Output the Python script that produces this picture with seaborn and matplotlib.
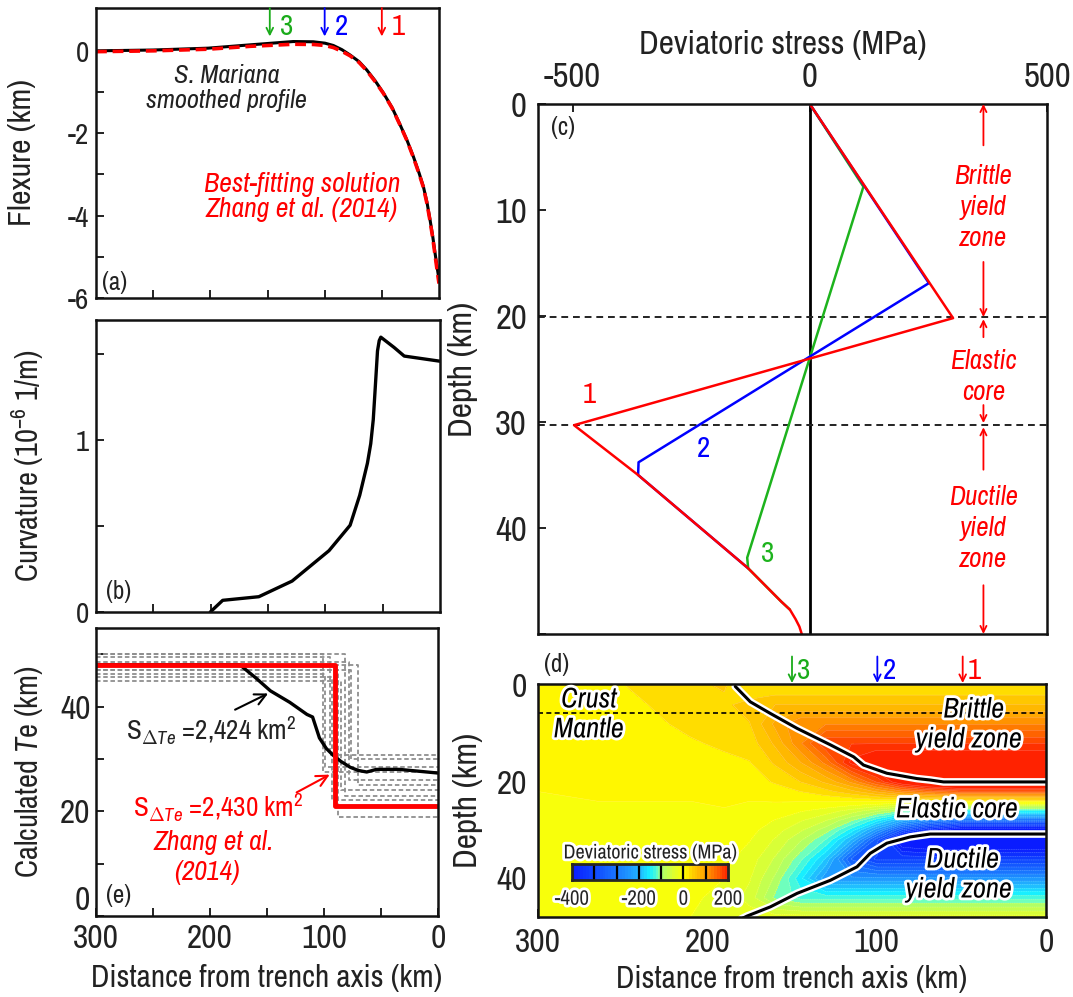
import numpy as np
import matplotlib
matplotlib.use('Agg')
import matplotlib.pyplot as plt
import matplotlib.patheffects as pe
from matplotlib import font_manager
from matplotlib.colors import LinearSegmentedColormap, Normalize
import seaborn as sns

# (a) flexure profile, km from trench axis
flex_dist = [300, 250, 202, 165, 127.5, 110, 99.7, 92.4, 85, 77.8, 70, 63.3, 56, 48.7, 41, 34.1, 28, 22.5, 17.5, 13.7, 10.5, 7.9, 5.5, 3.5, 1.5, 0]
flex_obs = [0.0, 0.02, 0.065, 0.146, 0.226, 0.22, 0.186, 0.13, 0.03, -0.10, -0.26, -0.46, -0.72, -1.02, -1.38, -1.79, -2.17, -2.56, -2.96, -3.29, -3.68, -4.09, -4.50, -4.90, -5.28, -5.55]
flex_zhang = [-0.02, 0.0, 0.04, 0.11, 0.16, 0.155, 0.13, 0.08, -0.01, -0.12, -0.28, -0.48, -0.74, -1.03, -1.39, -1.80, -2.18, -2.58, -2.98, -3.31, -3.71, -4.12, -4.54, -4.95, -5.36, -5.65]

arrow_dist = [148, 100, 50]
arrow_label = ['3', '2', '1']
arrow_color = ['#1aab1a', '#0000ff', '#ff0000']

# (b) curvature
curv_dist = [200.3, 189.5, 158, 129, 96.8, 78.4, 70, 63.3, 60.4, 58.2, 56.8, 54.5, 53, 51.6, 40, 31.2, 0]
curv_val = [0, 0.068, 0.089, 0.18, 0.357, 0.505, 0.68, 0.866, 0.98, 1.12, 1.27, 1.52, 1.58, 1.60, 1.54, 1.49, 1.46]

# (e) calculated Te
te_obs_dist = [300, 174, 160, 147, 130, 115, 110, 104, 98, 92, 85, 77, 70, 62.5, 54, 34, 0]
te_obs = [48, 48, 45.5, 43, 40.8, 38.5, 38, 34, 32, 30.7, 29.5, 28.4, 27.8, 27.5, 28, 28, 27.3]
te_zhang_step = 90
te_zhang_up = 48
te_zhang_low = 21.1
te_alt_step = [101, 95, 88, 82, 76, 70, 99, 93, 85, 78]
te_alt_up = [50.0, 49.5, 47.0, 50.0, 47.0, 48.0, 46.2, 45.6, 44.8, 48.5]
te_alt_low = [27.5, 30.7, 18.9, 23.0, 30.0, 25.0, 28.4, 22.1, 24.0, 25.9]

# (c) stress envelopes at the three arrows
red_stress = [0, 302, -497, -362, -130, -90, -60, -42, -30, -22, -17]
red_depth = [0, 20.2, 30.3, 35.0, 43.8, 45.6, 46.95, 47.7, 48.6, 49.3, 50]
blue_stress = [0, 251, -361, -362, -130]
blue_depth = [0, 16.9, 33.8, 35.0, 43.8]
green_stress = [0, 113, -132, -130, -90, -60, -42]
green_depth = [0, 7.8, 42.8, 43.8, 45.6, 46.95, 47.7]

# (d) deviatoric stress field (MPa), rows = depth, columns = distance
d_dist = [300, 265, 235, 210, 190, 175, 160, 145, 130, 115, 100, 85, 70, 50, 0]
d_depth = [0, 4, 8, 12, 16, 20, 22, 24, 26, 28, 30, 32, 36, 40, 44, 48]
d_stress = [
    [6, 15, 24, 36, 42, 20, 20, 20, 20, 20, 20, 20, 20, 20, 20],
    [5, 12, 20, 30, 36, 48, 60, 60, 60, 60, 60, 60, 60, 60, 60],
    [4, 10, 16, 24, 30, 39, 85, 119, 119, 119, 119, 119, 119, 119, 119],
    [3, 7, 12, 18, 23, 29, 64, 117, 179, 179, 179, 179, 179, 179, 179],
    [2, 5, 8, 12, 16, 19, 43, 79, 126, 206, 238, 238, 238, 238, 238],
    [1, 2, 4, 6, 8, 10, 22, 40, 64, 104, 162, 225, 266, 298, 298],
    [0, 1, 2, 3, 5, 5, 11, 20, 33, 53, 83, 115, 136, 153, 153],
    [0, 0, 0, 0, 2, 0, 1, 1, 2, 3, 4, 5, 6, 7, 7],
    [0, 0, -1, -2, -1, -5, -10, -18, -29, -48, -75, -104, -123, -139, -139],
    [0, -1, -2, -4, -4, -9, -21, -38, -60, -99, -154, -214, -253, -285, -285],
    [0, -1, -3, -6, -7, -14, -31, -57, -91, -150, -233, -324, -383, -431, -431],
    [-1, -2, -4, -8, -10, -19, -42, -77, -122, -201, -312, -434, -452, -452, -452],
    [-1, -3, -6, -11, -15, -29, -63, -115, -184, -302, -345, -345, -345, -345, -345],
    [-2, -4, -8, -14, -20, -38, -84, -154, -235, -235, -235, -235, -235, -235, -235],
    [-2, -5, -10, -17, -25, -48, -105, -127, -127, -127, -127, -127, -127, -127, -127],
    [-3, -6, -12, -20, -28, -30, -30, -30, -30, -30, -30, -30, -30, -30, -30],
]
brittle_dist = [183.5, 174.6, 162.8, 147, 127.4, 113.6, 107.8, 94, 76.3, 68.4, 60.5, 0]
brittle_depth = [0.2, 3.4, 5.8, 8.9, 12.3, 14.8, 16.5, 18.2, 19.3, 19.6, 20.0, 20.0]
ductile_dist = [180, 176.5, 162.8, 147, 127.4, 111.6, 103.8, 94, 80.2, 68.4, 0]
ductile_depth = [48.4, 47.8, 45.9, 43.1, 40.4, 37.6, 34.8, 32.7, 31.4, 30.8, 30.8]
moho_depth = 5.8

cmap_vals = [-400, -333, -267, -200, -150, -110, -100, -50, 0, 15, 40, 100, 140, 170, 200]
cmap_cols = ['#0a1cff', '#1048ff', '#1a78ff', '#22b4ff', '#18f0ff', '#70ffbc', '#a8ff70', '#d8ff38',
             '#ffff00', '#fff200', '#ffd000', '#ffa000', '#ff7000', '#ff4c00', '#ff2400']
cbar_bounds = [-400, -333, -267, -200, -100, 0, 100, 200]

W, H = 1073, 997


def box(l, t, r, b):
    return [l / W, 1 - b / H, (r - l) / W, (b - t) / H]


def pick_font():
    # look for a narrow sans face, otherwise plain Liberation Sans with smaller sizes
    fonts = font_manager.fontManager.ttflist
    for f in fonts:
        if 'Narrow' in f.name or 'Condensed' in f.name:
            return f.name, 'normal', 1.0
    for f in fonts:
        st = f.stretch
        if (isinstance(st, str) and 'condensed' in st) or (isinstance(st, int) and st < 500):
            return f.name, st, 1.0
    return 'Liberation Sans', 'normal', 0.84


sns.set_style('ticks')
FONT, STRETCH, K = pick_font()
plt.rcParams['font.family'] = [FONT, 'DejaVu Sans']
plt.rcParams['font.stretch'] = STRETCH
plt.rcParams['mathtext.fontset'] = 'custom'
plt.rcParams['mathtext.rm'] = FONT
plt.rcParams['mathtext.it'] = FONT + ':italic'
plt.rcParams['axes.unicode_minus'] = False
plt.rcParams['text.color'] = '#222222'
plt.rcParams['axes.labelcolor'] = '#222222'

white = [pe.withStroke(linewidth=4, foreground='white')]


def fs(x):
    return x * K


def style(ax, size, pad=5):
    ax.tick_params(direction='in', length=6, width=1.4, labelsize=fs(size), colors='#222222', pad=pad)
    for s in ax.spines.values():
        s.set_linewidth(1.8)
        s.set_color('#111111')


fig = plt.figure(figsize=(W / 100, H / 100), dpi=100)

# ---------- (a) ----------
ax_a = fig.add_axes(box(96, 8, 439, 298))
sns.lineplot(x=flex_dist, y=flex_obs, color='black', lw=2.2, sort=False, estimator=None, ax=ax_a)
sns.lineplot(x=flex_dist, y=flex_zhang, color='red', lw=2.6, linestyle=(0, (3, 1.6)),
             sort=False, estimator=None, ax=ax_a)
ax_a.set_xlim(300, 0)
ax_a.set_ylim(-6, 1.04)
ax_a.set_yticks([-6, -5, -4, -3, -2, -1, 0])
ax_a.set_yticklabels(['-6', '', '-4', '', '-2', '', '0'])
ax_a.set_xticks([250, 200, 150, 100, 50])
ax_a.set_xticklabels([])
style(ax_a, 21)
ax_a.set_ylabel('Flexure (km)', fontsize=fs(23))
ax_a.yaxis.set_label_coords(-0.175, 0.5)
for d, lab, c in zip(arrow_dist, arrow_label, arrow_color):
    ax_a.annotate('', xy=(d, 0.35), xytext=(d, 1.04),
                  arrowprops=dict(arrowstyle='->', color=c, lw=1.3, shrinkA=0, shrinkB=0, mutation_scale=12))
    ax_a.text(d - 9, 0.58, lab, color=c, fontsize=fs(21), ha='left', va='center')
ax_a.text(186, -0.60, 'S. Mariana', style='italic', fontsize=fs(19), ha='center', va='center')
ax_a.text(186, -1.20, 'smoothed profile', style='italic', fontsize=fs(19), ha='center', va='center')
ax_a.text(120, -3.25, 'Best-fitting solution', style='italic', fontsize=fs(20), color='red', ha='center', va='center')
ax_a.text(120, -3.86, 'Zhang et al. (2014)', style='italic', fontsize=fs(20), color='red', ha='center', va='center')
ax_a.text(284, -5.63, '(a)', fontsize=fs(18), ha='center', va='center')

# ---------- (b) ----------
ax_b = fig.add_axes(box(96, 320, 440, 612))
sns.lineplot(x=curv_dist, y=curv_val, color='black', lw=2.4, sort=False, estimator=None, ax=ax_b)
ax_b.set_xlim(300, 0)
ax_b.set_ylim(0, 1.70)
ax_b.set_yticks([0, 0.5, 1, 1.5])
ax_b.set_yticklabels(['0', '', '1', ''])
ax_b.set_xticks([250, 200, 150, 100, 50])
ax_b.set_xticklabels([])
style(ax_b, 21)
ax_b.set_ylabel('Curvature (10$^{-6}$ 1/m)', fontsize=fs(22))
ax_b.yaxis.set_label_coords(-0.145, 0.5)
ax_b.text(280, 0.117, '(b)', fontsize=fs(18), ha='center', va='center')

# ---------- (e) ----------
ax_e = fig.add_axes(box(96, 628, 438, 916))
for s, up, low in zip(te_alt_step, te_alt_up, te_alt_low):
    sns.lineplot(x=[300, s, s, 0], y=[up, up, low, low], color='#8f8f8f', lw=1.3,
                 linestyle=(0, (2.5, 1.5)), sort=False, estimator=None, ax=ax_e)
sns.lineplot(x=te_obs_dist, y=te_obs, color='black', lw=2.4, sort=False, estimator=None, ax=ax_e)
sns.lineplot(x=[300, te_zhang_step, te_zhang_step, 0], y=[te_zhang_up, te_zhang_up, te_zhang_low, te_zhang_low],
             color='red', lw=3.5, sort=False, estimator=None, ax=ax_e)
ax_e.set_xlim(300, 0)
ax_e.set_ylim(0, 55)
ax_e.set_yticks([0, 10, 20, 30, 40, 50])
ax_e.set_yticklabels(['0', '', '20', '', '40', ''])
ax_e.set_xticks([300, 250, 200, 150, 100, 50, 0])
ax_e.set_xticklabels(['300', '', '200', '', '100', '', '0'])
style(ax_e, 24, pad=6)
ax_e.tick_params(axis='y', pad=4)
# the bottom "0" sits just above the corner, clear of the "300" below it
ax_e.get_yticklabels()[0].set_verticalalignment('bottom')
ax_e.set_ylabel('Calculated $\\mathit{T}$e (km)', fontsize=fs(22))
ax_e.yaxis.set_label_coords(-0.149, 0.5)
ax_e.set_xlabel('Distance from trench axis (km)', fontsize=fs(22.5))
ax_e.xaxis.set_label_coords(0.5, -0.165)
ax_e.annotate('', xy=(149, 42.5), xytext=(178, 39.4),
              arrowprops=dict(arrowstyle='->', color='black', lw=1.5, shrinkA=0, shrinkB=0, mutation_scale=20))
ax_e.annotate('', xy=(95, 27), xytext=(124, 23.6),
              arrowprops=dict(arrowstyle='->', color='red', lw=1.5, shrinkA=0, shrinkB=0, mutation_scale=20))
ax_e.text(274, 35.4, 'S$_{\\Delta \\mathit{Te}}$ =2,424 km$^2$', fontsize=fs(19.5), ha='left', va='center')
ax_e.text(193, 20.6, 'S$_{\\Delta \\mathit{Te}}$ =2,430 km$^2$', fontsize=fs(19.5), color='red', ha='center', va='center')
ax_e.text(197, 14.1, 'Zhang et al.', style='italic', fontsize=fs(20), color='red', ha='center', va='center')
ax_e.text(203, 8.4, '(2014)', style='italic', fontsize=fs(20), color='red', ha='center', va='center')
ax_e.text(280, 4.0, '(e)', fontsize=fs(18), ha='center', va='center')

# ---------- (c) ----------
ax_c = fig.add_axes(box(538, 104, 1047, 634))
ax_c.axvline(0, color='black', lw=2)
for z in [20.1, 30.3]:
    ax_c.axhline(z, color='#222222', lw=1.4, linestyle=(0, (3.5, 2.5)))
sns.lineplot(x=green_stress, y=green_depth, color='#1db31d', lw=1.8, sort=False, estimator=None, ax=ax_c)
sns.lineplot(x=blue_stress, y=blue_depth, color='#0000ff', lw=1.8, sort=False, estimator=None, ax=ax_c)
sns.lineplot(x=red_stress, y=red_depth, color='#ff0000', lw=1.8, sort=False, estimator=None, ax=ax_c)
ax_c.set_xlim(-573, 500)
ax_c.set_ylim(50, 0)
ax_c.xaxis.tick_top()
ax_c.xaxis.set_label_position('top')
ax_c.set_xticks([-500, 0, 500])
ax_c.set_xticklabels(['-500', '0', '500'])
ax_c.set_yticks([0, 10, 20, 30, 40, 50])
ax_c.set_yticklabels(['0', '10', '20', '30', '40', ''])
style(ax_c, 25, pad=8)
ax_c.set_xlabel('Deviatoric stress (MPa)', fontsize=fs(24))
ax_c.xaxis.set_label_coords(0.48, 1.094)
ax_c.set_ylabel('Depth (km)', fontsize=fs(24))
ax_c.yaxis.set_label_coords(-0.118, 0.5)
ax_c.text(-466, 27.4, '1', color='red', fontsize=fs(21), ha='center', va='center')
ax_c.text(-225, 32.5, '2', color='blue', fontsize=fs(21), ha='center', va='center')
ax_c.text(-88, 42.4, '3', color='#1db31d', fontsize=fs(21), ha='center', va='center')
ax_c.text(-521, 2.2, '(c)', fontsize=fs(18), ha='center', va='center')
for start, end in [(3.9, 0), (14.9, 20.1), (22.0, 20.3), (28.4, 30.1), (34.5, 30.5), (45.4, 50)]:
    ax_c.annotate('', xy=(366, end), xytext=(366, start), annotation_clip=False,
                  arrowprops=dict(arrowstyle='->', color='red', lw=1.3, shrinkA=0, shrinkB=0, mutation_scale=11))
ax_c.text(366, 9.8, 'Brittle\nyield\nzone', color='red', style='italic', fontsize=fs(19.5), ha='center', va='center',
          linespacing=1.3)
ax_c.text(366, 25.8, 'Elastic\ncore', color='red', style='italic', fontsize=fs(19.5), ha='center', va='center',
          linespacing=1.3)
ax_c.text(366, 40.0, 'Ductile\nyield\nzone', color='red', style='italic', fontsize=fs(19.5), ha='center', va='center',
          linespacing=1.3)

# ---------- (d) ----------
ax_d = fig.add_axes(box(538, 684, 1046, 917))
cmap = LinearSegmentedColormap.from_list('stress', [((v + 400) / 600, c) for v, c in zip(cmap_vals, cmap_cols)])
cmap.set_over('#ff2200')
cmap.set_under('#0a1cff')
norm = Normalize(-400, 200)
levels = np.arange(-400, 201, 20)
XX, ZZ = np.meshgrid(d_dist, d_depth)
field = np.array(d_stress, dtype=float)
ax_d.contourf(XX, ZZ, field, levels=levels, cmap=cmap, norm=norm, extend='both')
ax_d.contour(XX, ZZ, field, levels=levels, colors='white', linewidths=0.3, alpha=0.4)
ax_d.axhline(moho_depth, color='black', lw=1.2, linestyle=(0, (3, 2)))
outline = [pe.Stroke(linewidth=5.5, foreground='white'), pe.Normal()]
sns.lineplot(x=brittle_dist, y=brittle_depth, color='black', lw=2.2, sort=False, estimator=None,
             path_effects=outline, ax=ax_d)
sns.lineplot(x=ductile_dist, y=ductile_depth, color='black', lw=2.2, sort=False, estimator=None,
             path_effects=outline, ax=ax_d)
ax_d.set_xlim(300, 0)
ax_d.set_ylim(48, -0.3)
ax_d.set_yticks(list(range(0, 50, 5)))
ax_d.set_yticklabels(['0', '', '', '', '20', '', '', '', '40', ''])
ax_d.set_xticks([300, 250, 200, 150, 100, 50, 0])
ax_d.set_xticklabels(['300', '', '200', '', '100', '', '0'])
style(ax_d, 24, pad=8)
ax_d.set_ylabel('Depth (km)', fontsize=fs(24))
ax_d.yaxis.set_label_coords(-0.108, 0.5)
ax_d.set_xlabel('Distance from trench axis (km)', fontsize=fs(22.5))
ax_d.xaxis.set_label_coords(0.5, -0.205)
for d, lab, c in zip([150, 99.6, 49.2], arrow_label, arrow_color):
    ax_d.annotate('', xy=(d, -0.5), xytext=(d, -6.0), annotation_clip=False,
                  arrowprops=dict(arrowstyle='->', color=c, lw=1.3, shrinkA=0, shrinkB=0, mutation_scale=12))
    ax_d.text(d - 3, -3.0, lab, color=c, fontsize=fs(21), ha='left', va='center', clip_on=False)
ax_d.text(296.7, -4.3, '(d)', fontsize=fs(18), ha='left', va='center', clip_on=False)
for txt, x, z in [('Crust', 270, 3.0), ('Mantle', 270, 9.2), ('Brittle', 42.7, 5.1), ('yield zone', 45.7, 11.3),
                  ('Elastic core', 52.7, 25.8), ('Ductile', 49.2, 36.2), ('yield zone', 51.6, 42.4)]:
    ax_d.text(x, z, txt, style='italic', fontsize=fs(20.5), ha='center', va='center', color='black', path_effects=white)

# colour bar drawn as seven equal boxes
cax = fig.add_axes(box(572, 864, 728, 880))
edges = np.linspace(0, 7, 7 * 8 + 1)
vals = np.concatenate([np.linspace(lo, hi, 17)[1::2] for lo, hi in zip(cbar_bounds[:-1], cbar_bounds[1:])])
cax.pcolormesh(edges, [0, 1], vals[None, :], cmap=cmap, norm=norm)
for k in range(1, 7):
    cax.axvline(k, color='black', lw=1.6)
cax.set_xlim(0, 7)
cax.set_ylim(0, 1)
cax.set_yticks([])
cax.set_xticks([0, 3, 5, 7])
cax.set_xticklabels(['-400', '-200', '0', '200'])
cax.tick_params(length=0, labelsize=fs(15), pad=7)
for lbl in cax.get_xticklabels():
    lbl.set_path_effects(white)
for s in cax.spines.values():
    s.set_linewidth(2)
cax.set_title('Deviatoric stress (MPa)', fontsize=fs(14.5), pad=4, path_effects=white)

fig.savefig('out.png', dpi=100, facecolor='white')
